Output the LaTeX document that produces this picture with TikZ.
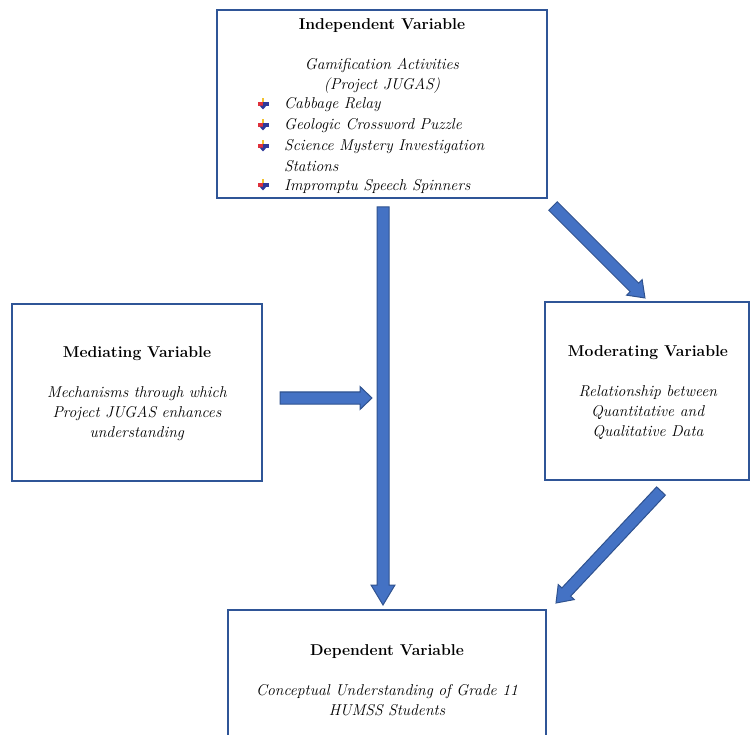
\documentclass[tikz,border=0pt]{standalone}
\usepackage{xcolor}
\usepackage{tikz}
\usetikzlibrary{calc}
\usetikzlibrary{positioning}

\definecolor{boxblue}{HTML}{2F5597}
\definecolor{arrowblue}{HTML}{4472C4}
\definecolor{arrowedge}{HTML}{2F528F}
\definecolor{pinred}{HTML}{E0303A}
\definecolor{pinyellow}{HTML}{F2C230}
\definecolor{pinblue}{HTML}{2E3A9A}

% fat block arrow from #1 to #2, head half width #3, head length #4
\newcommand{\fatarrow}[4]{%
	\path let \p1=($(#2)-(#1)$) in
		\pgfextra{\pgfmathsetmacro{\arrang}{atan2(\y1,\x1)}\pgfmathsetmacro{\arrlen}{veclen(\x1,\y1)}%
		\xdef\arrang{\arrang}\xdef\arrlen{\arrlen}};
	\draw[arrowfill,shift={(#1)},rotate=\arrang]
		(0pt,-6pt) -- ({\arrlen pt-#4},-6pt) -- ({\arrlen pt-#4},-#3) -- ({\arrlen pt},0pt)
		-- ({\arrlen pt-#4},#3) -- ({\arrlen pt-#4},6pt) -- (0pt,6pt) -- cycle;}

% little coloured pin used as list bullet
\newcommand{\jbullet}[1]{%
	\fill[pinyellow] ($(#1)+(-1.3pt,5.5pt)$) rectangle ($(#1)+(1.3pt,0pt)$);
	\fill[pinred] ($(#1)+(-5.5pt,1.6pt)$) rectangle ($(#1)+(0pt,-1.6pt)$);
	\fill[pinblue] ($(#1)+(0pt,1.6pt)$) rectangle ($(#1)+(5.5pt,-1.6pt)$);
	\fill[pinblue] ($(#1)+(-3.5pt,-1.6pt)$) -- ($(#1)+(3.5pt,-1.6pt)$) -- ($(#1)+(0pt,-5.5pt)$) -- cycle;}

\begin{document}
\begin{tikzpicture}[x=1pt,y=-1pt,
	varbox/.style={draw=boxblue,line width=2pt,rectangle,inner sep=0pt},
	vartext/.style={font=\fontsize{15.7}{20}\selectfont,align=center,inner sep=0pt},
	itemtext/.style={font=\fontsize{15.7}{20}\selectfont\itshape,anchor=west,inner sep=0pt},
	arrowfill/.style={fill=arrowblue,draw=arrowedge,line width=1pt,line join=miter}]
		\useasboundingbox (0,0) rectangle (750,735);
		\clip (0,0) rectangle (750,735);
		% boxes
		\node[varbox,minimum width=330pt,minimum height=188pt] (iv) at (382,104) {};
		\node[varbox,minimum width=250pt,minimum height=177pt] (mv) at (137,392.5) {};
		\node[varbox,minimum width=204pt,minimum height=178pt] (modv) at (647,391) {};
		\node[varbox,minimum width=318pt,minimum height=140pt] (dv) at (387,680) {};
		% independent variable
		\node[vartext] (ivt) at (382,56) {\textbf{Independent Variable}\\[19.5pt]\textit{Gamification Activities}\\\textit{(Project JUGAS)}};
		\node[itemtext] (b1) at (284,105) {Cabbage Relay};
		\node[itemtext] (b2) at (284,126) {Geologic Crossword Puzzle};
		\node[itemtext] (b3) at (284,147) {Science Mystery Investigation};
		\node[itemtext] (b3b) at (284,166) {Stations};
		\node[itemtext] (b4) at (284,186) {Impromptu Speech Spinners};
		\coordinate (p1) at (263,104);
		\coordinate (p2) at (263,125);
		\coordinate (p3) at (263,146);
		\coordinate (p4) at (263,185);
		\jbullet{p1}
		\jbullet{p2}
		\jbullet{p3}
		\jbullet{p4}
		% mediating, moderating, dependent
		\node[vartext] (mvt) at (137,394) {\textbf{Mediating Variable}\\[20pt]\textit{Mechanisms through which}\\\textit{Project JUGAS enhances}\\\textit{understanding}};
		\node[vartext] (modt) at (648,393) {\textbf{Moderating Variable}\\[20pt]\textit{Relationship between}\\\textit{Quantitative and}\\\textit{Qualitative Data}};
		\node[vartext] (dvt) at (387,680) {\textbf{Dependent Variable}\\[20pt]\textit{Conceptual Understanding of Grade 11}\\\textit{HUMSS Students}};
		% arrows
		\coordinate (ivs) at (383,207);
		\coordinate (dvn) at (383,605);
		\coordinate (mve) at (280,398);
		\coordinate (mid) at (372,398);
		\coordinate (ivse) at (553,206);
		\coordinate (modn) at (645,298);
		\coordinate (mods) at (661,491);
		\coordinate (dvne) at (556,603);
		\fatarrow{ivs}{dvn}{12pt}{20pt}
		\fatarrow{mve}{mid}{11.5pt}{12pt}
		\fatarrow{ivse}{modn}{11pt}{15pt}
		\fatarrow{mods}{dvne}{11pt}{15pt}
	\end{tikzpicture}
\end{document}
